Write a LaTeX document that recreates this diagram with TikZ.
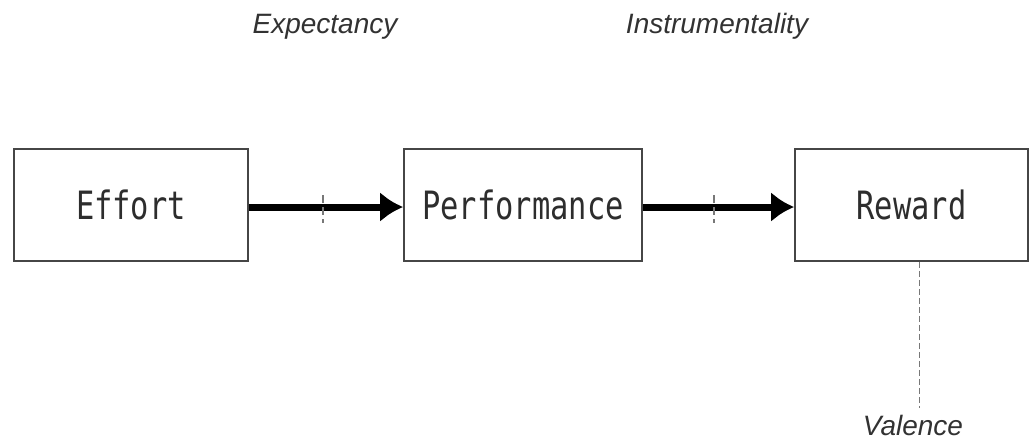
\documentclass[tikz,border=0pt]{standalone}
\usepackage{fontspec}
\usepackage{tikz}
\usetikzlibrary{arrows.meta, positioning, calc}
\newfontfamily\boxfont[FakeStretch=0.78]{DejaVu Sans Mono}
\newfontfamily\labelfont{Liberation Sans}
\definecolor{boxline}{RGB}{70, 70, 70}
\definecolor{boxtext}{RGB}{45, 45, 45}
\definecolor{labeltext}{RGB}{50, 50, 50}
\definecolor{tickgrey}{RGB}{120, 120, 120}

\begin{document}
\begin{tikzpicture}[x=0.5pt, y=-0.5pt,
    stagebox/.style={draw=boxline, line width=0.8pt, minimum height=56pt, inner sep=0pt,
      text=boxtext, font=\boxfont\fontsize{19.5}{24}\selectfont},
    linklabel/.style={anchor=base, text=labeltext, font=\labelfont\itshape\fontsize{14}{16}\selectfont},
    bigarrow/.style={line width=3.5pt, -{Latex[length=11.5pt, width=15pt]}},
    tickmark/.style={draw=tickgrey, line width=0.8pt, dash pattern=on 4pt off 2pt}]
  \useasboundingbox (0,0) rectangle (1029,441);

  % Stages
  \node[stagebox, minimum width=117pt] (effort) at (131, 205) {Effort};
  \node[stagebox, minimum width=119pt] (perf) at (523, 205) {Performance};
  \node[stagebox, minimum width=116.5pt] (reward) at (911.5, 205) {Reward};

  % Links
  \draw[bigarrow] ([yshift=-1pt]effort.east) -- ([yshift=-1pt]perf.west);
  \draw[bigarrow] ([yshift=-1pt]perf.east) -- ([yshift=-1pt]reward.west);

  % Ticks on the links
  \coordinate (tick1) at (323, 195);
  \coordinate (tick2) at (714, 195);
  \draw[tickmark] (tick1) -- ++(0, 28);
  \draw[tickmark] (tick2) -- ++(0, 28);

  % Labels
  \node[linklabel] (expect) at (325, 33) {Expectancy};
  \node[linklabel] (instr) at (717, 33) {Instrumentality};
  \node[linklabel] (valence) at (913, 435) {Valence};

  % Valence line
  \draw[tickmark, dash pattern=on 3pt off 1.5pt] ([xshift=4pt]reward.south) -- ([xshift=4pt]reward.south |- valence.north);
\end{tikzpicture}
\end{document}
